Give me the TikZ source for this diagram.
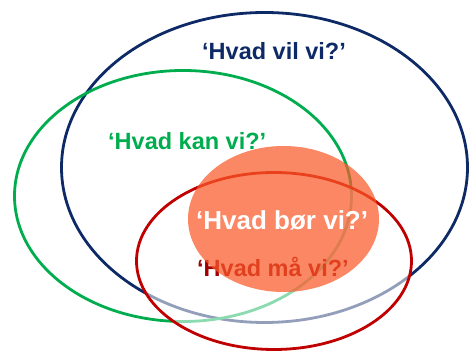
\documentclass[tikz,border=0pt]{standalone}
\usepackage{fontspec}
\setmainfont{Liberation Sans}
\definecolor{navy}{HTML}{0E2A66}
\definecolor{vgreen}{HTML}{00AD4E}
\definecolor{vred}{HTML}{C00000}
\definecolor{dred}{HTML}{A00000}
\definecolor{salmon}{HTML}{FA5A2A}
\tikzset{
  ring/.style={line width=2.8pt},
  lbl/.style={anchor=base west, inner sep=0pt, font=\bfseries\fontsize{23.5}{28}\selectfont}
}
\begin{document}
\begin{tikzpicture}[x=1pt,y=-1pt]
\useasboundingbox (0,0) rectangle (469,352);
% navy ellipse
\draw[ring, navy] (264.5,167.5) ellipse [x radius=203, y radius=155];
% green ellipse
\draw[ring, vgreen] (183,196) ellipse [x radius=168.5, y radius=125.5];
% red ellipse with white veil
\fill[white, fill opacity=0.55] (274,261) ellipse [x radius=137.5, y radius=88.5];
\draw[ring, vred] (274,261) ellipse [x radius=137.5, y radius=88.5];
% texts
\node[lbl, text=navy] (vil) at (202,60) {‘Hvad vil vi?’};
\node[lbl, text=vgreen] (kan) at (108,150) {‘Hvad kan vi?’};
\node[lbl, text=dred] (maa) at (197,277) {‘Hvad må vi?’};
% orange ellipse
\fill[salmon, fill opacity=0.72] (283.5,219) ellipse [x radius=95.5, y radius=73];
\node[lbl, text=white, font=\bfseries\fontsize{26}{31}\selectfont] (boer) at (196,229.5) {‘Hvad bør vi?’};
\end{tikzpicture}
\end{document}
